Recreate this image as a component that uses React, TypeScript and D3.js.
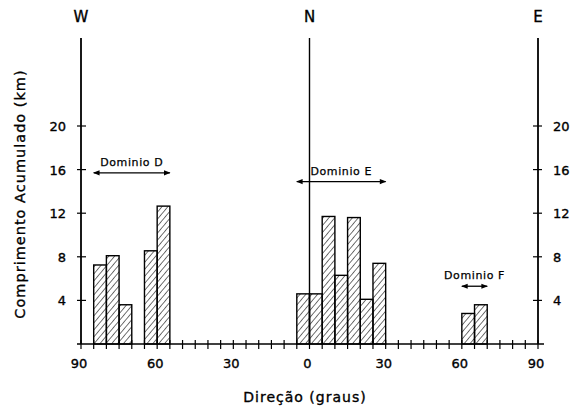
import * as d3 from "d3";

// directions: west side and east side measured from N (0), in degrees
const westBins = [85, 80, 75, 65, 60]; // bin start (W degrees), each bin 5° wide toward N
const westValues = [7.25, 8.1, 3.6, 8.55, 12.65];
const eastBins = [-5, 0, 5, 10, 15, 20, 25, 60, 65]; // bin start (E degrees), -5 = 5°W
const eastValues = [4.6, 4.6, 11.7, 6.3, 11.6, 4.1, 7.4, 2.8, 3.6];
const yTicks = [4, 8, 12, 16, 20];
const xTickLabels = [
  { pos: -90, label: "90" },
  { pos: -60, label: "60" },
  { pos: -30, label: "30" },
  { pos: 0, label: "0" },
  { pos: 30, label: "30" },
  { pos: 60, label: "60" },
  { pos: 90, label: "90" },
];
const compass = [
  { pos: -90, label: "W" },
  { pos: 0, label: "N" },
  { pos: 90, label: "E" },
];
const domains = [
  { name: "Dominio D", from: -85, to: -55, level: 15.7 },
  { name: "Dominio E", from: -5, to: 30, level: 14.9 },
  { name: "Dominio F", from: 60, to: 70, level: 5.3 },
];

const font = "'DejaVu Sans', sans-serif";
// scan-like heavier strokes on text
const ink = { fill: "#000", stroke: "#000", strokeWidth: 0.35 };

export default function App() {
  const width = 584;
  const height = 411;
  const x = d3.scaleLinear().domain([-90, 90]).range([81, 538]);
  const y = d3.scaleLinear().domain([0, 20]).range([344, 126]);
  const topY = 38;

  const bars = [
    ...westBins.map((b, i) => ({ x0: -b, x1: -b + 5, v: westValues[i] })),
    ...eastBins.map((b, i) => ({ x0: b, x1: b + 5, v: eastValues[i] })),
  ];
  const minorTicks = d3.range(-90, 91, 5);

  return (
    <svg width={width} height={height} style={{ display: "block", position: "absolute", left: 0, top: 0 }}>
      <defs>
        <pattern id="hatch" patternUnits="userSpaceOnUse" width="4.5" height="4.5" patternTransform="rotate(40)">
          <line x1="0" y1="0" x2="0" y2="4.5" stroke="#000" strokeWidth="1.1" />
        </pattern>
        <marker id="arr" viewBox="0 0 10 10" refX="9" refY="5" markerWidth="7" markerHeight="5" orient="auto-start-reverse">
          <path d="M0,1 L10,5 L0,9 Z" fill="#000" />
        </marker>
      </defs>
      <rect width={width} height={height} fill="#fff" />

      {bars.map((d, i) => (
        <rect
          key={i}
          x={x(d.x0)}
          y={y(d.v)}
          width={x(d.x1) - x(d.x0)}
          height={y(0) - y(d.v)}
          fill="url(#hatch)"
          stroke="#000"
          strokeWidth={1.4}
        />
      ))}

      {/* vertical axes W, N, E */}
      {compass.map((c) => (
        <g key={c.label}>
          <line x1={x(c.pos)} x2={x(c.pos)} y1={topY} y2={y(0)} stroke="#000" strokeWidth={c.pos === 0 ? 1.4 : 1.8} />
          <text x={x(c.pos)} y={22} textAnchor="middle" fontFamily={font} fontSize={15} {...ink}>
            {c.label}
          </text>
        </g>
      ))}

      {/* baseline with 5° ticks */}
      <line x1={x(-90) - 4} x2={x(90) + 6} y1={y(0)} y2={y(0)} stroke="#000" strokeWidth={1.6} />
      {minorTicks.map((t) => (
        <line key={t} x1={x(t)} x2={x(t)} y1={y(0) - 4} y2={y(0) + 5} stroke="#000" strokeWidth={1.2} />
      ))}
      {xTickLabels.map((t, i) => (
        <text key={i} x={x(t.pos) - 2} y={368} textAnchor="middle" fontFamily={font} fontSize={13} {...ink}>
          {t.label}
        </text>
      ))}

      {/* y ticks on left and right */}
      {yTicks.map((t) => (
        <g key={t}>
          <line x1={x(-90) - 4} x2={x(-90) + 5} y1={y(t)} y2={y(t)} stroke="#000" strokeWidth={1.2} />
          <text x={66} y={y(t) + 5} textAnchor="end" fontFamily={font} fontSize={13} {...ink}>
            {t}
          </text>
          <line x1={x(90) - 5} x2={x(90) + 4} y1={y(t)} y2={y(t)} stroke="#000" strokeWidth={1.2} />
          <text x={553} y={y(t) + 5} textAnchor="start" fontFamily={font} fontSize={13} {...ink}>
            {t}
          </text>
        </g>
      ))}

      {/* domain arrows */}
      {domains.map((d) => (
        <g key={d.name}>
          <line
            x1={x(d.from)}
            x2={x(d.to)}
            y1={y(d.level)}
            y2={y(d.level)}
            stroke="#000"
            strokeWidth={1.3}
            markerStart="url(#arr)"
            markerEnd="url(#arr)"
          />
          <text
            x={(x(d.from) + x(d.to)) / 2}
            y={y(d.level) - 7}
            textAnchor="middle"
            fontFamily={font}
            fontSize={11}
            letterSpacing={0.6}
            {...ink}
            strokeWidth={0.25}
          >
            {d.name}
          </text>
        </g>
      ))}

      <text
        transform={`translate(25,194) rotate(-90)`}
        textAnchor="middle"
        fontFamily={font}
        fontSize={14.5}
        letterSpacing={1}
        {...ink}
      >
        Comprimento Acumulado (km)
      </text>
      <text x={305} y={402} textAnchor="middle" fontFamily={font} fontSize={14} letterSpacing={1} {...ink}>
        Direção (graus)
      </text>
    </svg>
  );
}
